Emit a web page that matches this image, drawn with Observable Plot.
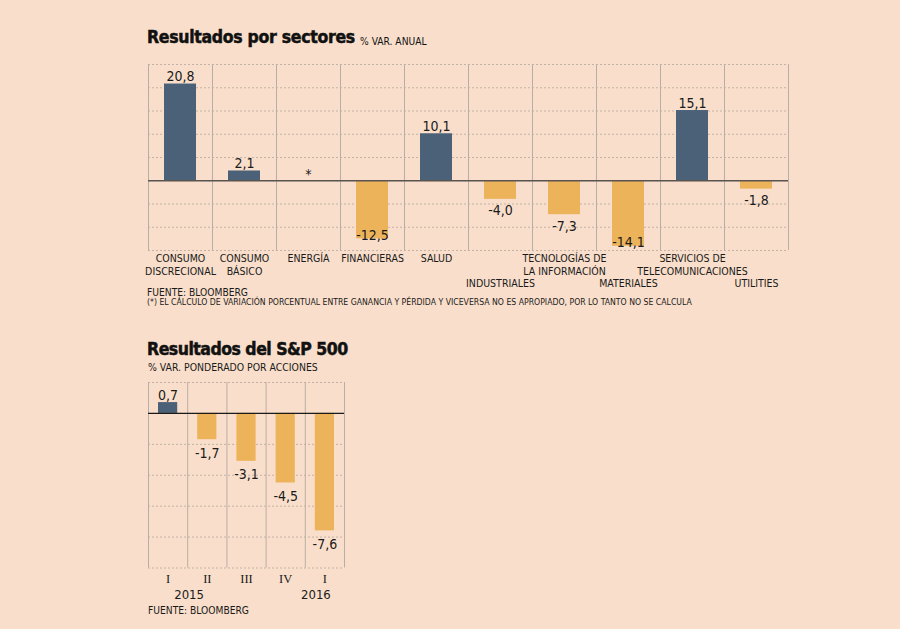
<!DOCTYPE html>
<html>
<head>
<meta charset="utf-8">
<script src="https://cdn.jsdelivr.net/npm/d3@7"></script>
<script src="https://cdn.jsdelivr.net/npm/@observablehq/plot@0.6"></script>
<style>
  html, body { margin: 0; padding: 0; background: #f9dfcb; }
  #wrap { position: relative; width: 900px; height: 629px; overflow: hidden; font-family: "DejaVu Sans Condensed", "Liberation Sans Narrow", "DejaVu Sans", sans-serif; color: #1a1a1a; }
  .abs { position: absolute; white-space: nowrap; line-height: 1; }
  .title { font-weight: bold; letter-spacing: -0.3px; -webkit-text-stroke: 0.5px #111; color: #111; }
  .sub { font-size: 10.4px; }
  .note { font-size: 8.65px; }
  .src { font-size: 10.2px; }
  svg { position: absolute; left: 0; overflow: visible; }
</style>
</head>
<body>
<div id="wrap">
  <div class="abs title" id="t1" style="left:147px; top:29px; font-size:17.5px;">Resultados por sectores <span style="font-weight:normal; font-size:10.2px; letter-spacing:0; -webkit-text-stroke:0; position:relative; top:2px;">% VAR. ANUAL</span></div>
  <div class="abs src" style="left:147px; top:288px;">FUENTE: BLOOMBERG</div>
  <div class="abs note" style="left:147px; top:298px;">(*) EL CÁLCULO DE VARIACIÓN PORCENTUAL ENTRE GANANCIA Y PÉRDIDA Y VICEVERSA NO ES APROPIADO, POR LO TANTO NO SE CALCULA</div>
  <div class="abs title" style="left:147px; top:341px; font-size:17.5px; letter-spacing:-0.5px;">Resultados del S&amp;P 500</div>
  <div class="abs sub" style="left:148px; top:362px;">% VAR. PONDERADO POR ACCIONES</div>
  <div class="abs src" style="left:148px; top:606px;">FUENTE: BLOOMBERG</div>
</div>
<script>
// ---- Data: sectors ----
const sectors = ["CONSUMO\nDISCRECIONAL", "CONSUMO\nBÁSICO", "ENERGÍA", "FINANCIERAS", "SALUD", "INDUSTRIALES", "TECNOLOGÍAS DE\nLA INFORMACIÓN", "MATERIALES", "SERVICIOS DE\nTELECOMUNICACIONES", "UTILITIES"];
const sectorValues = [20.8, 2.1, null, -12.5, 10.1, -4.0, -7.3, -14.1, 15.1, -1.8];
const sectorLabelRow = [0, 0, 0, 0, 0, 1, 0, 1, 0, 1];
const sectorTicks = [-15, -10, -5, 0, 5, 10, 15, 20, 25];

// ---- Data: S&P 500 quarters ----
const quarters = ["I", "II", "III", "IV", "I"];
const quarterValues = [0.7, -1.7, -3.1, -4.5, -7.6];
const years = ["2015", "2016"];
const yearQuarterIndex = [0, 4];
const quarterTicks = [-10, -8, -6, -4, -2, 0, 2];

const BLUE = "#4a6178";
const ORANGE = "#ecb35b";
const FONT = "'DejaVu Sans Condensed', 'Liberation Sans Narrow', 'DejaVu Sans', sans-serif";
const fmt = v => v.toFixed(1).replace(".", ",");

const sData = sectors.map((name, i) => ({ i, name, value: sectorValues[i], row: sectorLabelRow[i] }));
const sBars = sData.filter(d => d.value != null);

const chart1 = Plot.plot({
  width: 900, height: 240,
  marginLeft: 148, marginRight: 112, marginTop: 9, marginBottom: 45,
  x: { domain: [0, sectors.length], axis: null },
  y: { domain: [-15, 25], axis: null },
  color: { type: "identity" },
  style: { background: "transparent", fontFamily: FONT, overflow: "visible" },
  marks: [
    Plot.ruleY(sectorTicks, { stroke: "#c2b3a6", strokeDasharray: "2,2", strokeWidth: 1 }),
    Plot.ruleX(d3.range(0, sectors.length + 1), { stroke: "#b8aea5", strokeWidth: 1 }),
    Plot.rectY(sBars, { x1: d => d.i, x2: d => d.i + 1, y1: 0, y2: "value", fill: d => d.value >= 0 ? BLUE : ORANGE, insetLeft: 16, insetRight: 16 }),
    Plot.ruleY([0], { stroke: "#5a5550", strokeWidth: 1.6 }),
    Plot.text(sBars.filter(d => d.value >= 0), { x: d => d.i + 0.5, y: "value", text: d => fmt(d.value), lineAnchor: "bottom", dy: -3, fontSize: 14, fill: "#1a1a1a" }),
    Plot.text(sBars.filter(d => d.value < 0 && d.value >= -10), { x: d => d.i + 0.5, y: "value", text: d => fmt(d.value), lineAnchor: "top", dy: 6, fontSize: 14, fill: "#1a1a1a" }),
    Plot.text(sBars.filter(d => d.value < -10), { x: d => d.i + 0.5, y: "value", text: d => fmt(d.value), lineAnchor: "bottom", dy: 1, fontSize: 14, fill: "#1a1a1a" }),
    Plot.text(sData.filter(d => d.value == null), { x: d => d.i + 0.5, y: 0, text: () => "*", lineAnchor: "bottom", dy: -2, fontSize: 14, fill: "#1a1a1a" }),
    Plot.text(sData.filter(d => d.row === 0), { x: d => d.i + 0.5, frameAnchor: "bottom", text: "name", lineAnchor: "top", dy: 3, lineHeight: 1.18, fontSize: 10.5, fill: "#1a1a1a" }),
    Plot.text(sData.filter(d => d.row === 1), { x: d => d.i + 0.5, frameAnchor: "bottom", text: "name", lineAnchor: "top", dy: 28, lineHeight: 1.18, fontSize: 10.5, fill: "#1a1a1a" })
  ]
});
chart1.style.top = "55px";
document.getElementById("wrap").appendChild(chart1);

const qData = quarters.map((q, i) => ({ i, q, value: quarterValues[i] }));
const yData = years.map((y, k) => ({ y, i: yearQuarterIndex[k], k }));

const chart2 = Plot.plot({
  width: 900, height: 235,
  marginLeft: 148, marginRight: 556, marginTop: 7, marginBottom: 42.5,
  x: { domain: [0, quarters.length], axis: null },
  y: { domain: [-10, 2], axis: null },
  color: { type: "identity" },
  style: { background: "transparent", fontFamily: FONT, overflow: "visible" },
  marks: [
    Plot.ruleY(quarterTicks, { stroke: "#c2b3a6", strokeDasharray: "2,2", strokeWidth: 1 }),
    Plot.ruleX(d3.range(0, quarters.length + 1), { stroke: "#b8aea5", strokeWidth: 1 }),
    Plot.rectY(qData, { x1: d => d.i, x2: d => d.i + 1, y1: 0, y2: "value", fill: d => d.value >= 0 ? BLUE : ORANGE, insetLeft: 10, insetRight: 10 }),
    Plot.ruleY([0], { stroke: "#1a1a1a", strokeWidth: 1.3 }),
    Plot.text(qData.filter(d => d.value >= 0), { x: d => d.i + 0.5, y: "value", text: d => fmt(d.value), lineAnchor: "bottom", dy: -3, fontSize: 14, fill: "#1a1a1a" }),
    Plot.text(qData.filter(d => d.value < 0), { x: d => d.i + 0.5, y: "value", text: d => fmt(d.value), lineAnchor: "top", dy: 8, fontSize: 14, fill: "#1a1a1a" }),
    Plot.text(qData, { x: d => d.i + 0.5, frameAnchor: "bottom", text: "q", lineAnchor: "top", dy: 6, fontSize: 12.5, fontFamily: "'Liberation Serif', serif", fill: "#1a1a1a" }),
    Plot.text(yData.filter(d => d.k === 0), { x: d => d.i + 0.5, frameAnchor: "bottom", text: "y", lineAnchor: "top", dy: 22, dx: 21, fontSize: 13, fill: "#1a1a1a" }),
    Plot.text(yData.filter(d => d.k === 1), { x: d => d.i + 0.5, frameAnchor: "bottom", text: "y", lineAnchor: "top", dy: 22, dx: -9, fontSize: 13, fill: "#1a1a1a" })
  ]
});
chart2.style.top = "375px";
document.getElementById("wrap").appendChild(chart2);
</script>
</body>
</html>
